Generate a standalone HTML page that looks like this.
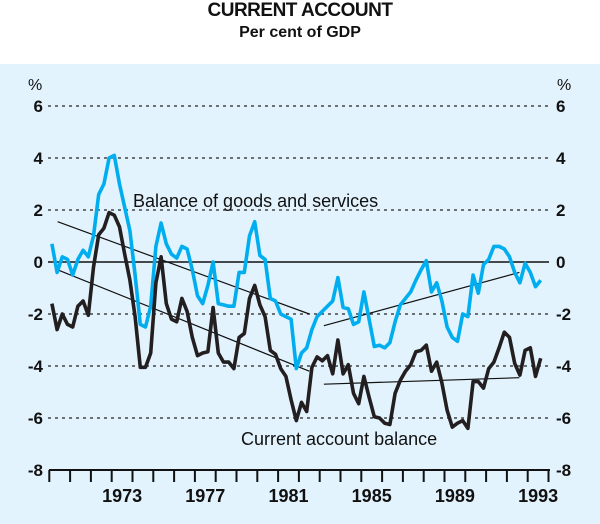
<!DOCTYPE html>
<html><head><meta charset="utf-8">
<style>
body{margin:0;background:#fff;}
#wrap{position:relative;width:600px;height:524px;font-family:"Liberation Sans",Arial,sans-serif;}
.t1{position:absolute;left:0;width:600px;text-align:center;font-weight:bold;color:#111;}
</style></head>
<body>
<div id="wrap">
<div class="t1" style="top:0px;font-size:19px;letter-spacing:-0.5px">CURRENT ACCOUNT</div>
<div class="t1" style="top:24px;font-size:16px">Per cent of GDP</div>
<svg id="chart" width="600" height="524" style="position:absolute;left:0;top:0"></svg>
</div>
<script>
const yTicks=[6,4,2,0,-2,-4,-6,-8];
const yearLabels=[1973,1977,1981,1985,1989,1993];
const startYear=1970.125;
const step=0.25;
const goodsServices=[0.7,-0.4,0.2,0.1,-0.5,0.1,0.45,0.2,1.0,2.6,3.0,4.0,4.1,3.0,2.1,1.2,-0.5,-2.4,-2.5,-1.7,0.6,1.5,0.7,0.3,
0.15,0.6,0.5,-0.3,-1.3,-1.6,-0.9,0,-1.6,-1.65,-1.7,-1.7,-0.4,-0.4,1.0,1.55,0.25,0.1,-1.4,-1.5,-2.0,-2.1,-2.2,-4.1,
-3.5,-3.3,-2.6,-2.1,-1.9,-1.7,-1.5,-0.6,-1.75,-1.8,-2.4,-2.3,-1.15,-2.2,-3.25,-3.2,-3.3,-3.1,-2.3,-1.65,-1.4,-1.15,-0.7,-0.3,
0.05,-1.15,-0.8,-1.5,-2.5,-2.9,-3.05,-2.0,-2.1,-0.5,-1.2,-0.1,0.1,0.6,0.6,0.5,0.2,-0.4,-0.8,-0.05,-0.4,-0.95,-0.7];
const currentAccount=[-1.6,-2.6,-2.0,-2.4,-2.5,-1.7,-1.5,-2.05,-0.2,1.05,1.3,1.9,1.8,1.35,0.3,-0.7,-2.1,-4.05,-4.05,-3.5,-0.8,0.2,-1.6,-2.2,
-2.3,-1.4,-1.9,-2.9,-3.6,-3.5,-3.45,-1.75,-3.5,-3.85,-3.85,-4.1,-2.9,-2.75,-1.4,-0.9,-1.65,-2.1,-3.4,-3.55,-4.1,-4.4,-5.3,-6.1,
-5.4,-5.75,-4.05,-3.65,-3.8,-3.6,-4.3,-3.0,-4.3,-3.95,-5.05,-5.45,-4.4,-5.2,-5.95,-6.0,-6.2,-6.25,-5.05,-4.55,-4.2,-3.95,-3.45,-3.4,
-3.2,-4.2,-3.85,-4.65,-5.7,-6.35,-6.2,-6.1,-6.4,-4.6,-4.6,-4.85,-4.1,-3.85,-3.3,-2.7,-2.9,-3.9,-4.35,-3.4,-3.3,-4.4,-3.7];
const trendGoods1=[1970.4,1.55,1982.5,-2.0];
const trendCA1=[1970.4,-0.3,1982.5,-4.2];
const trendGoods2=[1983.2,-2.45,1992.6,-0.4];
const trendCA2=[1983.2,-4.7,1992.6,-4.45];

const NS="http://www.w3.org/2000/svg";
const svg=document.getElementById('chart');
const x=t=>49.3+(t-1970)*20.8;
const y=v=>262-v*26;
function mk(tag,at,parent){const e=document.createElementNS(NS,tag);for(const k in at)e.setAttribute(k,at[k]);(parent||svg).appendChild(e);return e;}
const bg=mk('rect',{x:0,y:64,width:600,height:460,fill:'#e2f3fd'});


yTicks.forEach(v=>{
  if(v!==0&&v!==-8){const g=mk('line',{x1:48,x2:549,y1:y(v),y2:y(v),stroke:'#222','stroke-width':1.2,'stroke-dasharray':'3,4'});
  
  }
  const l=mk('text',{x:43,y:y(v)+6,'text-anchor':'end','font-size':17,'font-weight':'bold',fill:'#111','font-family':'Liberation Sans'});l.textContent=v;
  
  
  const r=mk('text',{x:556,y:y(v)+6,'font-size':17,'font-weight':'bold',fill:'#111','font-family':'Liberation Sans'});r.textContent=v;
  
  
});
[[28,'left'],[557,'right']].forEach(([px,s])=>{const p=mk('text',{x:px,y:90,'font-size':16,fill:'#111','font-family':'Liberation Sans'});p.textContent='%';

});
const zl=mk('line',{x1:48,x2:549,y1:y(0),y2:y(0),stroke:'#111','stroke-width':1.6});


const ax=mk('line',{x1:49,x2:550,y1:y(-8),y2:y(-8),stroke:'#111','stroke-width':2});


for(let yr=1970;yr<=1994;yr++){const tk=mk('line',{x1:x(yr),x2:x(yr),y1:y(-8),y2:y(-8)+12,stroke:'#111','stroke-width':2});

}
yearLabels.forEach(yr=>{const t=mk('text',{x:x(yr+0.5),y:502,'text-anchor':'middle','font-size':18,'font-weight':'bold',fill:'#111','font-family':'Liberation Sans'});t.textContent=yr;

});
[trendGoods1,trendCA1,trendGoods2,trendCA2].forEach(a=>{const l=mk('line',{x1:x(a[0]),y1:y(a[1]),x2:x(a[2]),y2:y(a[3]),stroke:'#111','stroke-width':1.2});

});
function series(data,color,name){const pts=data.map((v,i)=>x(startYear+i*step).toFixed(1)+','+y(v).toFixed(1)).join(' ');
const p=mk('polyline',{points:pts,fill:'none',stroke:color,'stroke-width':3.6,'stroke-linejoin':'round'});

}
series(goodsServices,'#00aeef','goods-services-line');
series(currentAccount,'#231f20','current-account-line');
const l1=mk('text',{x:133,y:207,'font-size':18,fill:'#111','font-family':'Liberation Sans'});l1.textContent='Balance of goods and services';


const l2=mk('text',{x:241,y:445,'font-size':18,fill:'#111','font-family':'Liberation Sans'});l2.textContent='Current account balance';


</script>
</body></html>
